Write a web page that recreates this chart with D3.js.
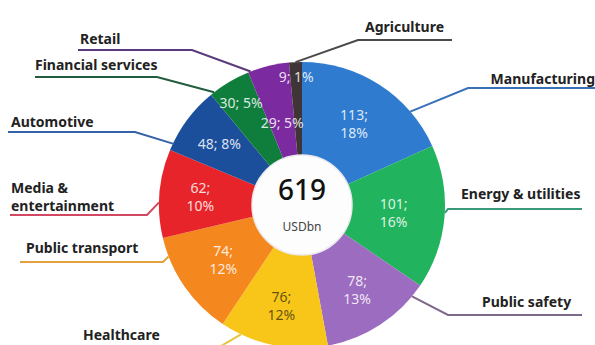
<!DOCTYPE html>
<html>
<head>
<meta charset="utf-8">
<script src="https://cdn.jsdelivr.net/npm/d3@7"></script>
<style>
  html, body { margin: 0; padding: 0; background: #ffffff; }
  svg { display: block; }
</style>
</head>
<body>
<svg id="chart" width="595" height="345"></svg>
<script>
// Spending by sector, USD billions
const categories = ["Manufacturing", "Energy & utilities", "Public safety", "Healthcare",
  "Public transport", "Media & entertainment", "Automotive", "Financial services", "Retail", "Agriculture"];
const values = [113, 101, 78, 76, 74, 62, 48, 30, 29, 9];
const shares = ["18%", "16%", "13%", "12%", "12%", "10%", "8%", "5%", "5%", "1%"];
const totalValue = 619;
const totalUnit = "USDbn";

const sliceColors = ["#2e7bcf", "#22b35e", "#9c6cc0", "#f7c619", "#f5871f",
  "#e8242b", "#1b4f9c", "#0f7d3c", "#7b2b9f", "#403536"];
const lineColors = ["#3a70b8", "#3a9a78", "#7b6a8c", "#e6c640", "#e3a23e",
  "#d24862", "#3561a8", "#215c3e", "#5b3a7c", "#4a4a4a"];

// Layout of each sector's callout: text block, underline and where the leader meets the ring
const callouts = [
  { lines: ["Manufacturing"], x: 595, y: 84, anchor: "end", u0: 468, u1: 597, uy: 88, side: "right", t: 0.75 },
  { lines: ["Energy & utilities"], x: 461, y: 199, anchor: "start", u0: 448, u1: 582, uy: 209, side: "right", t: 0.47 },
  { lines: ["Public safety"], x: 482, y: 307, anchor: "start", u0: 448, u1: 582, uy: 315, side: "right", t: 0.12 },
  { lines: ["Healthcare"], x: 83, y: 340, anchor: "start", u0: 78, u1: 216, uy: 349, side: "left", t: 0.81 },
  { lines: ["Public transport"], x: 26, y: 253, anchor: "start", u0: 20, u1: 163, uy: 262, side: "left", t: 0.82 },
  { lines: ["Media &", "entertainment"], x: 11, y: 193, anchor: "start", u0: 10, u1: 147, uy: 215, side: "left", t: 0.40 },
  { lines: ["Automotive"], x: 11, y: 127, anchor: "start", u0: 8, u1: 135, uy: 132, side: "left", t: 0.10 },
  { lines: ["Financial services"], x: 35, y: 70, anchor: "start", u0: 35, u1: 157, uy: 77, side: "left", t: 0.09 },
  { lines: ["Retail"], x: 80, y: 44, anchor: "start", u0: 78, u1: 192, uy: 50, side: "left", t: 0.06 },
  { lines: ["Agriculture"], x: 365, y: 32, anchor: "start", u0: 358, u1: 452, uy: 40, side: "right", t: 0.5 }
];
// Radial distance of each in-slice value label, and whether it wraps to two lines
const valueLabelRadius = [96, 92, 101, 103, 96, 102, 103, 119, 84, 128];
const valueLabelWrap = [true, true, true, true, true, true, false, false, false, false];
const valueLabelColor = ["#fff", "#fff", "#fff", "#4a3b10", "#fff", "#fff", "#fff", "#fff", "#fff", "#fff"];

const cx = 302, cy = 205;
const outerR = 143, innerR = 50;

const svg = d3.select("#chart");
const g = svg.append("g").attr("transform", `translate(${cx},${cy})`);

const data = categories.map((name, i) => ({ name, value: values[i], share: shares[i], i }));

const pie = d3.pie().value(d => d.value).sort(null).startAngle(0).endAngle(2 * Math.PI);
const arcs = pie(data);

const arc = d3.arc().innerRadius(0).outerRadius(outerR);

g.selectAll("path.slice")
  .data(arcs)
  .join("path")
  .attr("class", "slice")
  .attr("d", arc)
  .attr("fill", d => sliceColors[d.data.i]);

// White centre disc with total
g.append("circle")
  .attr("r", innerR)
  .attr("fill", "#fdfdfd")
  .attr("stroke", "#eceaee")
  .attr("stroke-width", 1.5);

g.append("text")
  .attr("text-anchor", "middle")
  .attr("y", -5)
  .attr("font-family", "'Noto Sans', sans-serif")
  .attr("font-size", 28)
  .attr("font-weight", 500)
  .attr("fill", "#111")
  .text(totalValue);

g.append("text")
  .attr("text-anchor", "middle")
  .attr("y", 26)
  .attr("font-family", "'Noto Sans', sans-serif")
  .attr("font-size", 12)
  .attr("fill", "#444")
  .text(totalUnit);

// Value labels inside slices
const polar = (angle, r) => [r * Math.sin(angle), -r * Math.cos(angle)];

arcs.forEach(d => {
  const i = d.data.i;
  const mid = (d.startAngle + d.endAngle) / 2;
  const [lx, ly] = polar(mid, valueLabelRadius[i]);
  const text = g.append("text")
    .attr("text-anchor", "middle")
    .attr("font-family", "'Noto Sans', sans-serif")
    .attr("font-size", 14)
    .attr("fill", valueLabelColor[i])
    .attr("fill-opacity", 0.85);
  if (valueLabelWrap[i]) {
    text.append("tspan").attr("x", lx).attr("y", ly - 4).text(d.data.value + ";");
    text.append("tspan").attr("x", lx).attr("y", ly + 14).text(d.data.share);
  } else {
    text.attr("x", lx).attr("y", ly + 5).text(d.data.value + "; " + d.data.share);
  }
});

// Callouts: sector name, underline and leader to the ring edge
const labels = svg.append("g");
arcs.forEach(d => {
  const i = d.data.i;
  const c = callouts[i];
  const a = d.startAngle + (d.endAngle - d.startAngle) * c.t;
  const [ex, ey] = polar(a, outerR);
  const elbowX = c.side === "left" ? c.u1 : c.u0;
  const far = c.side === "left" ? c.u0 : c.u1;

  labels.append("path")
    .attr("d", d3.line()([[far, c.uy], [elbowX, c.uy], [cx + ex, cy + ey]]))
    .attr("fill", "none")
    .attr("stroke", lineColors[i])
    .attr("stroke-width", 2);

  const t = labels.append("text")
    .attr("font-family", "'Noto Sans', sans-serif")
    .attr("font-size", 14)
    .attr("font-weight", 700)
    .attr("fill", "#222")
    .attr("text-anchor", c.anchor);
  c.lines.forEach((line, k) => {
    t.append("tspan").attr("x", c.x).attr("y", c.y + k * 18).text(line);
  });
});
</script>
</body>
</html>
